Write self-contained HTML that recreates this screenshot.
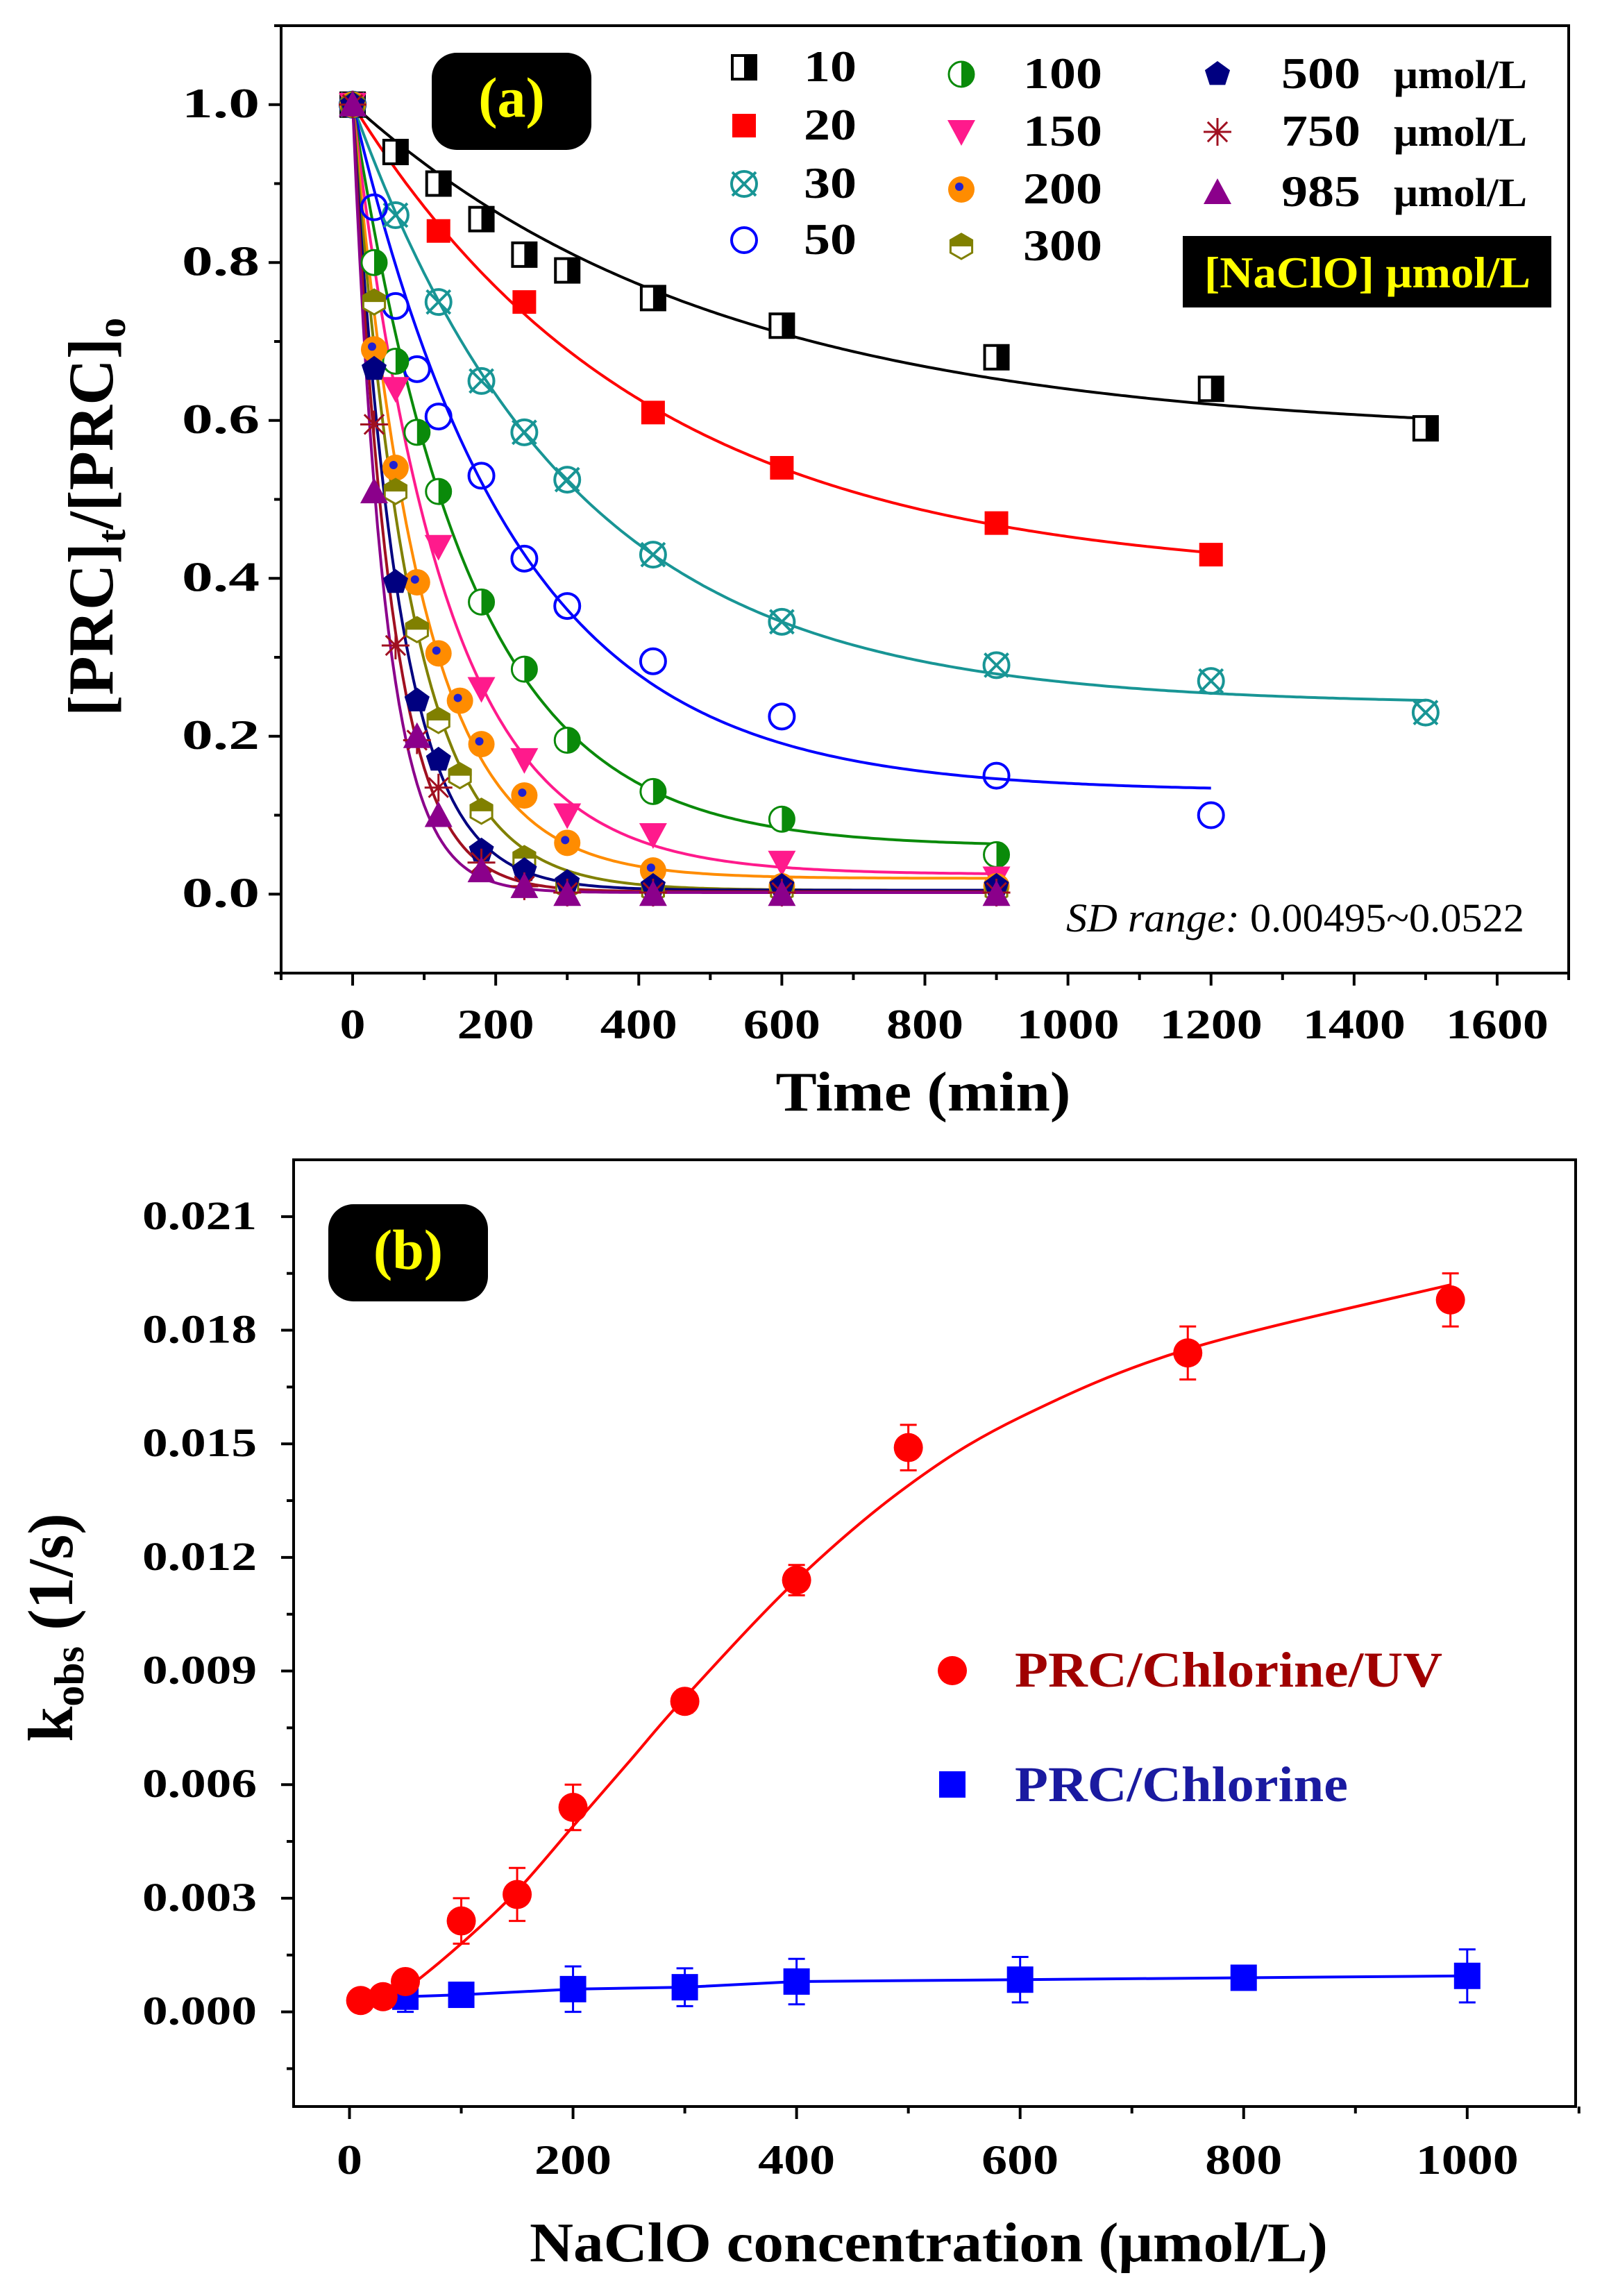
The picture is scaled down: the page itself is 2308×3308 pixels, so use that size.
<!DOCTYPE html>
<html><head><meta charset="utf-8"><style>
html,body{margin:0;padding:0;background:#fff;}
svg{display:block;}
text{font-family:"Liberation Serif",serif;}
</style></head>
<body>
<svg id="fig" width="2308" height="3308" viewBox="0 0 2308 3308" xmlns="http://www.w3.org/2000/svg">
<rect width="2308" height="3308" fill="#fff"/>
<g id="pa"></g>
<g id="pb"></g>
</svg>
<script>
// ---------- Panel (a) data ----------
const seriesNames = ["10","20","30","50","100","150","200","300","500","750","985"];
const tA = [0,30,60,90,120,150,180,240,300,420,600,900,1200,1500];
const s10  = [1.0,null,0.94,null,0.90,null,0.855,0.81,0.79,0.755,0.72,0.68,0.64,0.59];
const s20  = [1.0,null,null,null,0.84,null,null,0.75,null,0.61,0.54,0.47,0.43,null];
const s30  = [1.0,null,0.86,null,0.75,null,0.65,0.585,0.525,0.43,0.345,0.29,0.27,0.23];
const s50  = [1.0,0.87,0.745,0.665,0.605,null,0.53,0.425,0.365,0.295,0.225,0.15,0.10,null];
const s100 = [1.0,0.80,0.675,0.585,0.51,null,0.37,0.285,0.195,0.13,0.095,0.05,null,null];
const s150 = [1.0,null,0.64,null,0.44,null,0.26,0.17,0.10,0.075,0.04,0.02,null,null];
const s200 = [1.0,0.69,0.54,0.395,0.305,0.245,0.19,0.125,0.065,0.03,0.01,0.01,null,null];
const s300 = [1.0,0.75,0.51,0.335,0.22,0.15,0.105,0.045,0.01,0.005,0.005,0.005,null,null];
const s500 = [1.0,0.665,0.395,0.245,0.17,null,0.055,0.03,0.015,0.01,0.01,0.01,null,null];
const s750 = [1.0,0.595,0.315,0.195,0.135,null,0.04,0.01,0.002,0.002,0.002,0.002,null,null];
const s985 = [1.0,0.51,null,0.20,0.10,null,0.03,0.01,0.0,0.0,0.0,0.0,null,null];
// fit parameters: plateau, rate constant, curve end time
const fitPlateau = [0.58,0.40,0.24,0.13,0.06,0.025,0.02,0.005,0.005,0.003,0.002];
const fitK       = [0.00195,0.00243,0.0033,0.00443,0.00616,0.0078,0.0104,0.0123,0.0155,0.0185,0.022];
const fitEnd     = [1500,1200,1500,1200,900,900,900,900,900,900,900];
const xTicksA = [0,200,400,600,800,1000,1200,1400,1600];
const yTicksA = [0.0,0.2,0.4,0.6,0.8,1.0];
const yLabelsA = ["0.0","0.2","0.4","0.6","0.8","1.0"];

// ---------- Panel (b) data ----------
const uvX = [10,30,50,100,150,200,300,400,500,750,985];
const uvY = [0.0003,0.0004,0.0008,0.0024,0.0031,0.0054,0.0082,0.0114,0.0149,0.0174,0.0188];
const uvErr = [0.0001,0.0001,0.0002,0.0006,0.0007,0.0006,0.0003,0.0004,0.0006,0.0007,0.0007];
const fitUvX = [30,50,100,150,200,250,300,400,500,600,750,985];
const fitUvY = [0.0004,0.0006,0.0018,0.0032,0.0049,0.0066,0.0083,0.0114,0.0139,0.0157,0.0175,0.0192];
const clX = [50,100,200,300,400,600,800,1000];
const clY = [0.0004,0.00045,0.0006,0.00065,0.0008,0.00085,0.0009,0.00095];
const clErr = [0.0004,0.0002,0.0006,0.0005,0.0006,0.0006,0.0001,0.0007];
const xTicksB = [0,200,400,600,800,1000];
const yTicksB = [0,0.003,0.006,0.009,0.012,0.015,0.018,0.021];
const yLabelsB = ["0.000","0.003","0.006","0.009","0.012","0.015","0.018","0.021"];

const NS="http://www.w3.org/2000/svg";
function mk(parent,tag,attrs){const e=document.createElementNS(NS,tag);for(const k in attrs)e.setAttribute(k,attrs[k]);parent.appendChild(e);return e;}
const CW=31; // approx width per char for wide bold numerals

// ---------- Panel (a) ----------
const pa=document.getElementById('pa');
const A={l:405,r:2260,t:37,b:1402,x0:-100,x1:1700,y0:-0.1,y1:1.1};
const xa=v=>A.l+(v-A.x0)/(A.x1-A.x0)*(A.r-A.l);
const ya=v=>A.b-(v-A.y0)/(A.y1-A.y0)*(A.b-A.t);
let e=mk(pa,'rect',{x:A.l,y:A.t,width:A.r-A.l,height:A.b-A.t,fill:'none',stroke:'#000','stroke-width':4});

for(let v=-100;v<=1700;v+=100){const maj=v%200===0;e=mk(pa,'line',{x1:xa(v),x2:xa(v),y1:A.b,y2:A.b+(maj?18:10),stroke:'#000','stroke-width':4});
}
xTicksA.forEach(v=>{const s=String(v);e=mk(pa,'text',{x:xa(v),y:1496,'text-anchor':'middle','font-size':60,'font-weight':'bold',textLength:s.length*37,lengthAdjust:'spacingAndGlyphs'});e.textContent=s;
});
for(let i=-1;i<=11;i++){const v=i/10;const maj=i%2===0;e=mk(pa,'line',{x1:A.l,x2:A.l-(maj?18:10),y1:ya(v),y2:ya(v),stroke:'#000','stroke-width':4});
}
yTicksA.forEach((v,i)=>{e=mk(pa,'text',{x:374,y:ya(v)+18,'text-anchor':'end','font-size':60,'font-weight':'bold',textLength:112,lengthAdjust:'spacingAndGlyphs'});e.textContent=yLabelsA[i];
});
e=mk(pa,'text',{x:1330,y:1600,'text-anchor':'middle','font-size':80,'font-weight':'bold',textLength:425,lengthAdjust:'spacingAndGlyphs'});e.textContent='Time (min)';

e=mk(pa,'text',{x:0,y:0,transform:'translate(162,745) rotate(-90)','text-anchor':'middle','font-size':92,'font-weight':'bold'});
e.innerHTML='[PRC]<tspan font-size="58" dy="18">t</tspan><tspan dy="-18">/[PRC]</tspan><tspan font-size="58" dy="18">o</tspan>';


const colorsA=['#000','#ff0000','#189595','#0000ff','#0a8a0a','#ff1a8c','#ff8c00','#808000','#000080','#a01020','#8b008b'];
const markersA=['halfsq','sq','xcirc','circ','halfcirc','tridown','dotcirc','hex','pent','star','triup'];
function marker(g,type,cx,cy,c){
  const s=17;
  if(type==='halfsq'){mk(g,'rect',{x:cx-s,y:cy-s,width:2*s,height:2*s,fill:'#fff',stroke:'#000','stroke-width':4});mk(g,'rect',{x:cx,y:cy-s,width:s,height:2*s,fill:'#000'});}
  else if(type==='sq'){mk(g,'rect',{x:cx-s,y:cy-s,width:2*s,height:2*s,fill:c});}
  else if(type==='xcirc'){mk(g,'circle',{cx,cy,r:s+1,fill:'none',stroke:c,'stroke-width':4});mk(g,'path',{d:`M${cx-s} ${cy-s}L${cx+s} ${cy+s}M${cx+s} ${cy-s}L${cx-s} ${cy+s}`,stroke:c,'stroke-width':4});}
  else if(type==='circ'){mk(g,'circle',{cx,cy,r:s+1,fill:'none',stroke:c,'stroke-width':4});}
  else if(type==='halfcirc'){mk(g,'circle',{cx,cy,r:s+1,fill:'#fff',stroke:c,'stroke-width':3});mk(g,'path',{d:`M${cx} ${cy-s-1}A${s+1} ${s+1} 0 0 1 ${cx} ${cy+s+1}Z`,fill:c});}
  else if(type==='tridown'){mk(g,'path',{d:`M${cx-s-3} ${cy-s}L${cx+s+3} ${cy-s}L${cx} ${cy+s+3}Z`,fill:c});}
  else if(type==='dotcirc'){mk(g,'circle',{cx,cy,r:s+2,fill:c});mk(g,'circle',{cx:cx-3,cy:cy-4,r:6,fill:'#2020d0'});}
  else if(type==='hex'){const p=[];for(let i=0;i<6;i++){const a=Math.PI/6+i*Math.PI/3;p.push((cx+(s+1)*Math.cos(a)).toFixed(1)+','+(cy+(s+1)*Math.sin(a)).toFixed(1));}
    mk(g,'polygon',{points:p.join(' '),fill:'#fff',stroke:c,'stroke-width':3});mk(g,'path',{d:`M${cx-s} ${cy}L${cx-s} ${cy-s/2}L${cx} ${cy-s-1}L${cx+s} ${cy-s/2}L${cx+s} ${cy}Z`,fill:c});}
  else if(type==='pent'){const p=[];for(let i=0;i<5;i++){const a=-Math.PI/2+i*2*Math.PI/5;p.push((cx+(s+2)*Math.cos(a)).toFixed(1)+','+(cy+(s+2)*Math.sin(a)).toFixed(1));}mk(g,'polygon',{points:p.join(' '),fill:c});}
  else if(type==='star'){let d='';for(let i=0;i<4;i++){const a=i*Math.PI/4;d+=`M${cx-(s+3)*Math.cos(a)} ${cy-(s+3)*Math.sin(a)}L${cx+(s+3)*Math.cos(a)} ${cy+(s+3)*Math.sin(a)}`;}mk(g,'path',{d,stroke:c,'stroke-width':3});}
  else if(type==='triup'){mk(g,'path',{d:`M${cx-s-3} ${cy+s}L${cx+s+3} ${cy+s}L${cx} ${cy-s-3}Z`,fill:c});}
}
const dataA=[s10,s20,s30,s50,s100,s150,s200,s300,s500,s750,s985];
dataA.forEach((ser,i)=>{
  let d='';for(let t=0;t<=fitEnd[i];t+=5){const y=fitPlateau[i]+(1-fitPlateau[i])*Math.exp(-fitK[i]*t);d+=(t?'L':'M')+xa(t).toFixed(1)+' '+ya(y).toFixed(1);}
  e=mk(pa,'path',{d,fill:'none',stroke:colorsA[i],'stroke-width':4});
  
});
dataA.forEach((ser,i)=>{
  const g=mk(pa,'g',{});
  
  ser.forEach((v,j)=>{if(v===null)return;marker(g,markersA[i],xa(tA[j]),ya(v),colorsA[i]);});
});
e=mk(pa,'rect',{x:622,y:76,width:230,height:140,rx:36,fill:'#000'});

e=mk(pa,'text',{x:737,y:168,'text-anchor':'middle','font-size':82,'font-weight':'bold',fill:'#ffff00'});e.textContent='(a)';

const legPos=[[1072,97],[1072,181],[1072,265],[1072,346],[1385,107],[1385,190],[1385,273],[1385,355],[1754,107],[1754,190],[1754,277]];
const legLbl=[[1158,97],[1158,181],[1158,265],[1158,346],[1474,107],[1474,190],[1474,273],[1474,355],[1846,107],[1846,190],[1846,277]];
seriesNames.forEach((n,i)=>{
  const g=mk(pa,'g',{});
  marker(g,markersA[i],legPos[i][0],legPos[i][1],colorsA[i]);
  const t=mk(g,'text',{x:legLbl[i][0],y:legLbl[i][1]+20,'font-size':64,'font-weight':'bold',textLength:n.length*38,lengthAdjust:'spacingAndGlyphs'});
  t.textContent=n;
  if(i>=8){const u=mk(g,'text',{x:2008,y:legLbl[i][1]+20,'font-size':58,'font-weight':'bold',textLength:192,lengthAdjust:'spacingAndGlyphs'});u.textContent='μmol/L';}
});
e=mk(pa,'rect',{x:1704,y:340,width:531,height:103,fill:'#000'});

e=mk(pa,'text',{x:1970,y:414,'text-anchor':'middle','font-size':64,'font-weight':'bold',fill:'#ffff00',textLength:470,lengthAdjust:'spacingAndGlyphs'});e.textContent='[NaClO] μmol/L';

e=mk(pa,'text',{x:2196,y:1342,'text-anchor':'end','font-size':58,textLength:660,lengthAdjust:'spacingAndGlyphs'});e.innerHTML='<tspan font-style="italic">SD range:</tspan> 0.00495~0.0522';


// ---------- Panel (b) ----------
const pb=document.getElementById('pb');
const B={l:423,r:2270,t:1671,b:3035,x0:-50,x1:1097,y0:-0.0025,y1:0.0225};
const xb=v=>B.l+(v-B.x0)/(B.x1-B.x0)*(B.r-B.l);
const yb=v=>B.b-(v-B.y0)/(B.y1-B.y0)*(B.b-B.t);
e=mk(pb,'rect',{x:B.l,y:B.t,width:B.r-B.l,height:B.b-B.t,fill:'none',stroke:'#000','stroke-width':4});

for(let v=0;v<=1100;v+=100){const maj=v%200===0;e=mk(pb,'line',{x1:xb(v),x2:xb(v),y1:B.b,y2:B.b+(maj?18:10),stroke:'#000','stroke-width':4});
}
xTicksB.forEach(v=>{const s=String(v);e=mk(pb,'text',{x:xb(v),y:3132,'text-anchor':'middle','font-size':60,'font-weight':'bold',textLength:s.length*37,lengthAdjust:'spacingAndGlyphs'});e.textContent=s;
});
for(let i=-1;i<=14;i++){const v=i*0.0015;const maj=i%2===0;e=mk(pb,'line',{x1:B.l,x2:B.l-(maj?18:10),y1:yb(v),y2:yb(v),stroke:'#000','stroke-width':4});
}
yTicksB.forEach((v,i)=>{e=mk(pb,'text',{x:370,y:yb(v)+18,'text-anchor':'end','font-size':58,'font-weight':'bold',textLength:165,lengthAdjust:'spacingAndGlyphs'});e.textContent=yLabelsB[i];
});
e=mk(pb,'text',{x:1338,y:3258,'text-anchor':'middle','font-size':80,'font-weight':'bold',textLength:1150,lengthAdjust:'spacingAndGlyphs'});e.textContent='NaClO concentration (μmol/L)';

e=mk(pb,'text',{x:0,y:0,transform:'translate(104,2345) rotate(-90)','text-anchor':'middle','font-size':92,'font-weight':'bold'});
e.innerHTML='k<tspan font-size="60" dy="16">obs</tspan><tspan dy="-16"> (1/s)</tspan>';

e=mk(pb,'rect',{x:473,y:1735,width:230,height:140,rx:36,fill:'#000'});

e=mk(pb,'text',{x:588,y:1828,'text-anchor':'middle','font-size':82,'font-weight':'bold',fill:'#ffff00'});e.textContent='(b)';

function smooth(xs,ys,fx,fy){const P=xs.map((x,i)=>[fx(x),fy(ys[i])]);let d='M'+P[0][0]+' '+P[0][1];
  for(let i=0;i<P.length-1;i++){const p0=P[Math.max(0,i-1)],p1=P[i],p2=P[i+1],p3=P[Math.min(P.length-1,i+2)];
  d+=`C${p1[0]+(p2[0]-p0[0])/6} ${p1[1]+(p2[1]-p0[1])/6} ${p2[0]-(p3[0]-p1[0])/6} ${p2[1]-(p3[1]-p1[1])/6} ${p2[0]} ${p2[1]}`;}return d;}
e=mk(pb,'path',{d:smooth(fitUvX,fitUvY,xb,yb),fill:'none',stroke:'#ff0000','stroke-width':4});

e=mk(pb,'path',{d:clX.map((x,i)=>(i?'L':'M')+xb(x)+' '+yb(clY[i])).join(''),fill:'none',stroke:'#0000ff','stroke-width':4});

function errbar(g,x,y,er,c){const X=xb(x);mk(g,'path',{d:`M${X} ${yb(y-er)}L${X} ${yb(y+er)}M${X-12} ${yb(y-er)}L${X+12} ${yb(y-er)}M${X-12} ${yb(y+er)}L${X+12} ${yb(y+er)}`,stroke:c,'stroke-width':3,fill:'none'});}
const gcl=mk(pb,'g',{});
clX.forEach((x,i)=>{errbar(gcl,x,clY[i],clErr[i],'#0000ff');mk(gcl,'rect',{x:xb(x)-19,y:yb(clY[i])-19,width:38,height:38,fill:'#0000ff'});});
const guv=mk(pb,'g',{});
uvX.forEach((x,i)=>{errbar(guv,x,uvY[i],uvErr[i],'#ff0000');mk(guv,'circle',{cx:xb(x),cy:yb(uvY[i]),r:21,fill:'#ff0000'});});
e=mk(pb,'circle',{cx:1372,cy:2407,r:21,fill:'#ff0000'});
e=mk(pb,'text',{x:1462,y:2430,'font-size':72,'font-weight':'bold',fill:'#a00000',textLength:616,lengthAdjust:'spacingAndGlyphs'});e.textContent='PRC/Chlorine/UV';

e=mk(pb,'rect',{x:1353,y:2552,width:38,height:38,fill:'#0000ff'});
e=mk(pb,'text',{x:1462,y:2595,'font-size':72,'font-weight':'bold',fill:'#1a1aa0',textLength:480,lengthAdjust:'spacingAndGlyphs'});e.textContent='PRC/Chlorine';

</script>
</body></html>
